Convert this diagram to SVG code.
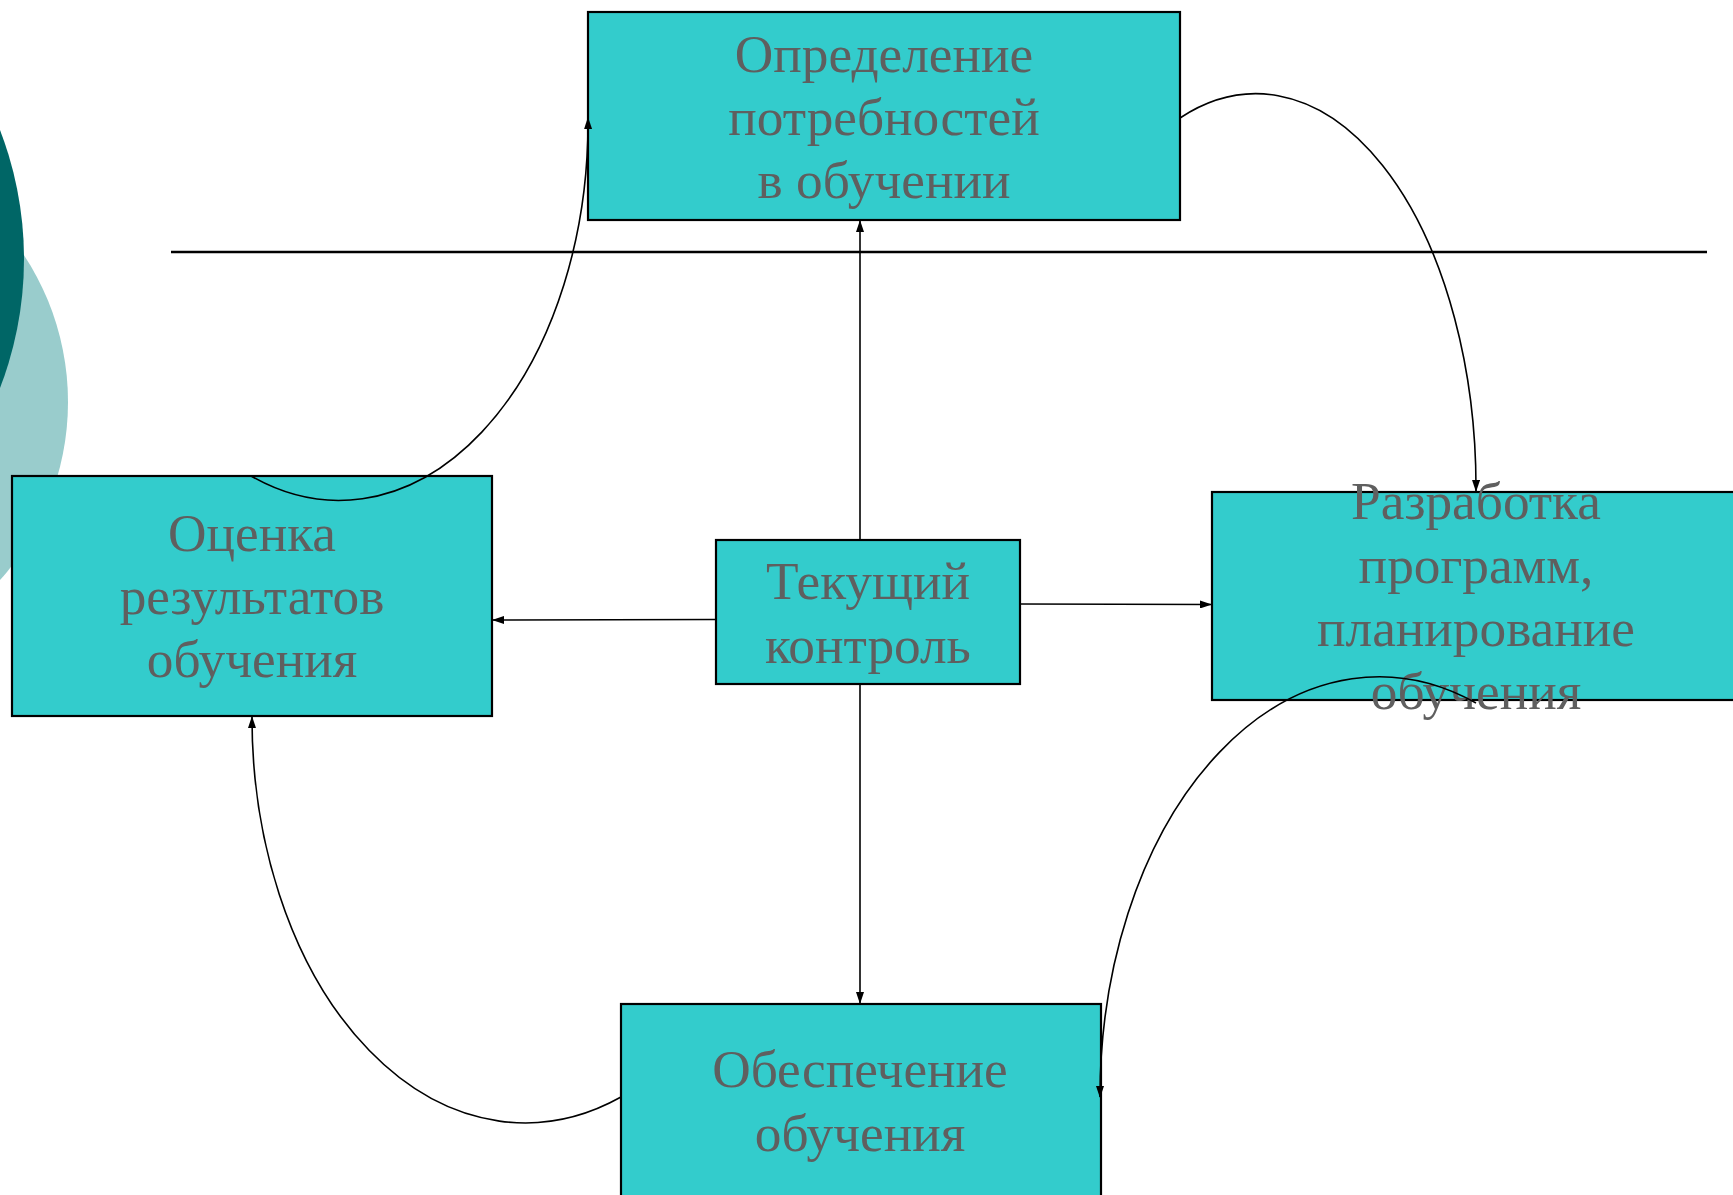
<svg xmlns="http://www.w3.org/2000/svg" width="1733" height="1195" viewBox="0 0 1733 1195">
  <defs>
    <marker id="arr" markerUnits="userSpaceOnUse" markerWidth="12" markerHeight="8" refX="11" refY="4" orient="auto">
      <path d="M0,0 L12,4 L0,8 z" fill="#000"/>
    </marker>
    <style>
      .box { fill: #33CCCC; stroke: #000; stroke-width: 2.2; }
      .lbl { font-family: "Liberation Serif", "Times New Roman", serif; font-size: 53.3px; fill: #5f5f5f; text-anchor: middle; }
      .conn { fill: none; stroke: #000; stroke-width: 1.6; marker-end: url(#arr); }
    </style>
  </defs>
  <rect width="1733" height="1195" fill="#fff"/>
  <g id="decor">
    <circle cx="-199" cy="402" r="267" fill="#99CCCC"/>
    <circle cx="-335" cy="259" r="359" fill="#006666"/>
    <line x1="171" y1="252" x2="1707" y2="252" stroke="#000" stroke-width="2.4"/>
  </g>
  <g id="node-needs">
    <rect class="box" x="588" y="12" width="592" height="208"/>
    <text class="lbl" x="884" y="72">Определение</text>
    <text class="lbl" x="884" y="135">потребностей</text>
    <text class="lbl" x="884" y="198">в обучении</text>
  </g>
  <g id="node-eval">
    <rect class="box" x="12" y="476" width="480" height="240"/>
    <text class="lbl" x="252" y="551">Оценка</text>
    <text class="lbl" x="252" y="614">результатов</text>
    <text class="lbl" x="252" y="677">обучения</text>
  </g>
  <g id="node-control">
    <rect class="box" x="716" y="540" width="304" height="144"/>
    <text class="lbl" x="868" y="599">Текущий</text>
    <text class="lbl" x="868" y="663">контроль</text>
  </g>
  <g id="node-dev">
    <rect class="box" x="1212" y="492" width="530" height="208"/>
    <text class="lbl" x="1476" y="519">Разработка</text>
    <text class="lbl" x="1476" y="583">программ,</text>
    <text class="lbl" x="1476" y="646">планирование</text>
    <text class="lbl" x="1476" y="709">обучения</text>
  </g>
  <g id="node-support">
    <rect class="box" x="621" y="1004" width="480" height="200"/>
    <text class="lbl" x="860" y="1087">Обеспечение</text>
    <text class="lbl" x="860" y="1151">обучения</text>
  </g>
  <g id="connectors">
    <line class="conn" x1="860" y1="540" x2="860" y2="221"/>
    <line class="conn" x1="860" y1="684" x2="860" y2="1003"/>
    <line class="conn" x1="716" y1="619.5" x2="493" y2="620"/>
    <line class="conn" x1="1020" y1="604" x2="1211" y2="604.5"/>
    <path class="conn" d="M1180,118 A220,394 0 0 1 1476,491"/>
    <path class="conn" d="M251,476 A249,378 0 0 0 588,118"/>
    <path class="conn" d="M621,1097 A273,405 0 0 1 252,717"/>
    <path class="conn" d="M1476,703 A279,420 0 0 0 1100,1097"/>
  </g>
</svg>
